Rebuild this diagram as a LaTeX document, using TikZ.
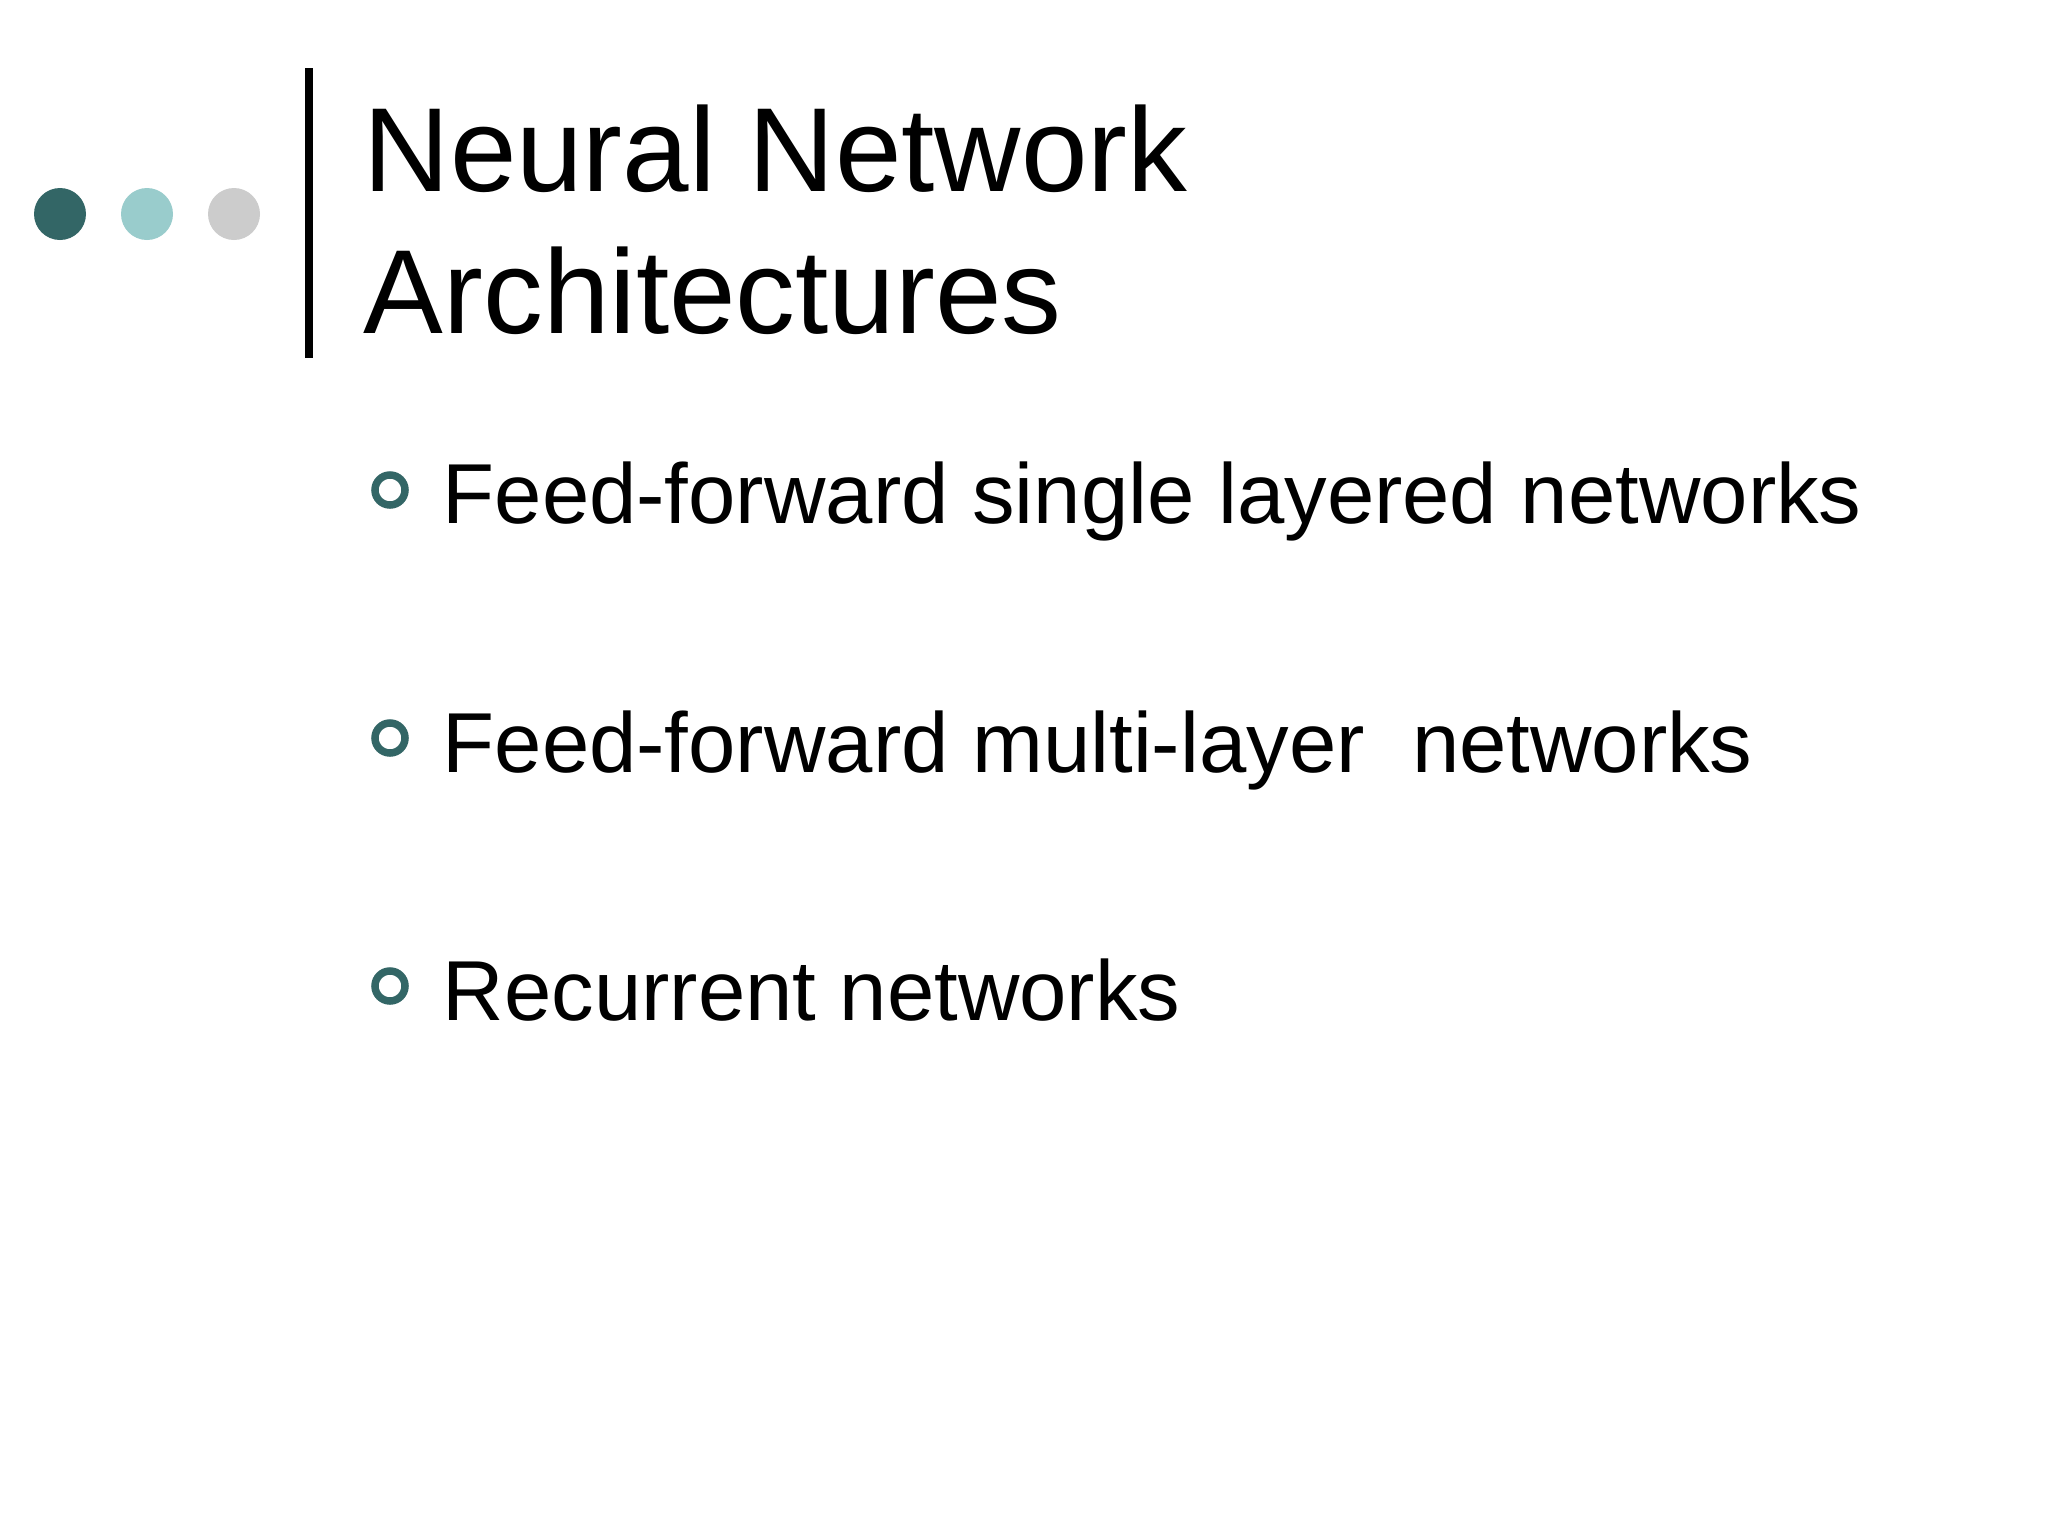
\documentclass[tikz,border=0pt]{standalone}
\usepackage{fontspec}
\setmainfont{Liberation Sans}
\definecolor{dteal}{HTML}{336666}
\definecolor{lteal}{HTML}{99CCCC}
\definecolor{lgray}{HTML}{CCCCCC}
\begin{document}
\begin{tikzpicture}[x=0.01cm,y=-0.01cm,
  title/.style={anchor=base west,inner sep=0pt,font=\fontsize{34pt}{40pt}\selectfont},
  item/.style={anchor=base west,inner sep=0pt,font=\fontsize{24.2pt}{30pt}\selectfont},
  ring/.style={draw=dteal,line width=0.075cm,circle,minimum size=0.3cm,inner sep=0pt}]
\useasboundingbox[fill=white] (0,0) rectangle (2048,1536);
\fill[dteal] (60,214) circle (26);
\fill[lteal] (147,214) circle (26);
\fill[lgray] (234,214) circle (26);
\draw[line width=0.08cm] (309,68) -- (309,358);
\node[title] (t1) at (363,191) {Neural Network};
\node[title] (t2) at (363,333) {Architectures};
\node[ring] (b1) at (390,490) {};
\node[item] (i1) at (442,523) {Feed-forward single layered networks};
\node[ring] (b2) at (390,738) {};
\node[item] (i2) at (442,772) {Feed-forward multi-layer\ \ networks};
\node[ring] (b3) at (390,986) {};
\node[item] (i3) at (442,1020) {Recurrent networks};
\end{tikzpicture}
\end{document}
